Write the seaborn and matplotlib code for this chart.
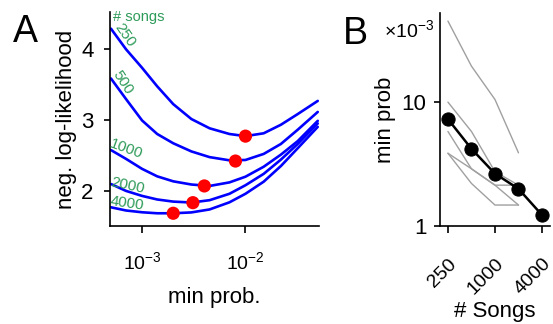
import numpy as np
import pandas as pd
import matplotlib
matplotlib.use("Agg")
import matplotlib.pyplot as plt
import seaborn as sns

# Data: panel A, neg. log-likelihood vs min prob. for each song count
song_counts = [250, 500, 1000, 2000, 4000]
min_prob = [5e-4, 7e-4, 1e-3, 1.4e-3, 2e-3, 3e-3, 4.5e-3, 7e-3, 1e-2, 1.5e-2, 2.2e-2, 3.2e-2, 5e-2]
nll_250 = [4.28, 3.99, 3.73, 3.47, 3.22, 3.01, 2.88, 2.80, 2.77, 2.81, 2.93, 3.08, 3.265]
nll_500 = [3.58, 3.29, 2.99, 2.80, 2.67, 2.555, 2.475, 2.43, 2.435, 2.52, 2.66, 2.86, 3.11]
nll_1000 = [2.574, 2.45, 2.31, 2.205, 2.135, 2.09, 2.07, 2.12, 2.20, 2.34, 2.51, 2.70, 2.985]
nll_2000 = [2.097, 2.00, 1.93, 1.88, 1.85, 1.837, 1.87, 1.96, 2.08, 2.24, 2.44, 2.66, 2.948]
nll_4000 = [1.77, 1.725, 1.70, 1.686, 1.686, 1.698, 1.74, 1.84, 1.96, 2.13, 2.35, 2.60, 2.90]

# minima (red dots)
best_prob = [1e-2, 8e-3, 4e-3, 3.1e-3, 2e-3]
best_nll = [2.77, 2.42, 2.07, 1.835, 1.686]

# Data: panel B, min prob (x 10^-3) vs number of songs
songs_b = [250, 500, 1000, 2000, 4000]
mean_prob = [7.3, 4.2, 2.65, 2.0, 1.23]
songs_gray = [250, 500, 1000, 2000]
gray_1 = [45, 19.5, 10.5, 3.9]
gray_2 = [10, 5.8, 2.75, 2.14]
gray_3 = [5.8, 2.9, 2.14, 1.48]
gray_4 = [3.87, 2.9, 2.14, 2.14]
gray_5 = [3.87, 2.21, 1.48, 1.48]

sns.set_style("ticks")
plt.rcParams["font.family"] = ["Liberation Sans", "DejaVu Sans"]
plt.rcParams["mathtext.fontset"] = "custom"
plt.rcParams["mathtext.rm"] = "Liberation Sans"
plt.rcParams["mathtext.it"] = "Liberation Sans:italic"
plt.rcParams["mathtext.bf"] = "Liberation Sans:bold"
plt.rcParams["axes.linewidth"] = 1.2
for key in ["text.color", "axes.labelcolor", "xtick.color", "ytick.color", "axes.edgecolor"]:
    plt.rcParams[key] = "black"

curves = [nll_250, nll_500, nll_1000, nll_2000, nll_4000]
dfA = pd.DataFrame({
    "min_prob": min_prob * len(curves),
    "nll": np.concatenate(curves),
    "songs": np.repeat(song_counts, len(min_prob)),
})

grays = [gray_1, gray_2, gray_3, gray_4, gray_5]
dfG = pd.DataFrame({
    "songs": songs_gray * len(grays),
    "prob": np.concatenate(grays),
    "run": np.repeat(np.arange(len(grays)), len(songs_gray)),
})

fig = plt.figure(figsize=(5.53, 3.24), dpi=100)
axA = fig.add_axes([0.199, 0.302, 0.378, 0.660])
axB = fig.add_axes([0.796, 0.302, 0.199, 0.657])

# Panel A
sns.lineplot(data=dfA, x="min_prob", y="nll", units="songs", estimator=None,
             color="blue", lw=1.9, ax=axA)
sns.scatterplot(x=best_prob, y=best_nll, color="red", s=90, edgecolor="none",
                zorder=3, ax=axA)
axA.set_xscale("log")
axA.set_xlim(4.9e-4, 0.0515)
axA.set_ylim(1.505, 4.51)
axA.set_xticks([1e-3, 1e-2])
axA.minorticks_off()
axA.set_yticks([2, 3, 4])
axA.set_yticklabels(["2", "3", "4"])
axA.tick_params(axis="y", labelsize=16, length=4, width=1.2, pad=8)
axA.tick_params(axis="x", labelsize=14, length=5, width=1.2, pad=13)
axA.set_xlabel("min prob.", fontsize=16, labelpad=10)
axA.set_ylabel("neg. log-likelihood", fontsize=16, labelpad=3)
sns.despine(ax=axA)

green = "#2e9b5a"
axA.text(5.2e-4, 4.45, "# songs", color=green, fontsize=10.5, ha="left", va="center")
axA.text(6.8e-4, 4.19, "250", color=green, fontsize=11, ha="center", va="center", rotation=-55)
axA.text(6.5e-4, 3.53, "500", color=green, fontsize=11, ha="center", va="center", rotation=-57)
axA.text(6.95e-4, 2.59, "1000", color=green, fontsize=11, ha="center", va="center", rotation=-20)
axA.text(7.28e-4, 2.08, "2000", color=green, fontsize=11, ha="center", va="center", rotation=-12)
axA.text(7.1e-4, 1.82, "4000", color=green, fontsize=11, ha="center", va="center", rotation=-8)

# Panel B
sns.lineplot(data=dfG, x="songs", y="prob", units="run", estimator=None,
             color="#a0a0a0", lw=1.0, ax=axB)
sns.lineplot(x=songs_b, y=mean_prob, color="black", lw=1.8, marker="o",
             markersize=9.5, markeredgecolor="black", ax=axB, zorder=3)
axB.set_xscale("log", base=2)
axB.set_yscale("log")
axB.set_xlim(199, 5100)
axB.set_ylim(1, 52)
axB.set_xticks([250, 1000, 4000])
axB.set_yticks([1, 10])
axB.set_yticklabels(["1", "10"])
axB.minorticks_off()
axB.tick_params(axis="y", labelsize=16, length=4, width=1.2, pad=6)
axB.tick_params(axis="x", labelsize=14, length=5, width=1.2, pad=16)
axB.set_xticklabels(["250", "1000", "4000"], rotation=45, ha="right",
                    va="top", rotation_mode="anchor")
axB.set_xlabel("# Songs", fontsize=16, labelpad=2)
axB.set_ylabel("min prob", fontsize=16, labelpad=4)
axB.text(-0.05, 0.92, r"$\times10^{-3}$", transform=axB.transAxes,
         fontsize=14, ha="right", va="center")
sns.despine(ax=axB)

fig.text(13 / 553, 1 - 32 / 324, "A", fontsize=27, ha="left", va="center")
fig.text(343 / 553, 1 - 34 / 324, "B", fontsize=27, ha="left", va="center")

fig.savefig("out.png", dpi=100)
